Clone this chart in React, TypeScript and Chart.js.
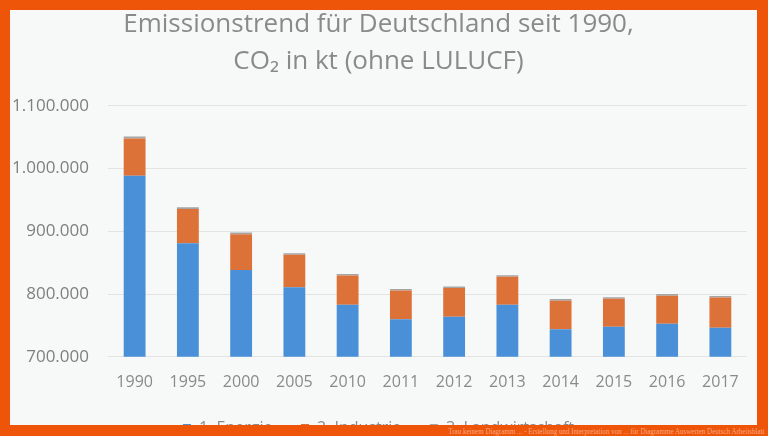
import React, { useEffect, useRef } from "react";
import { Chart, registerables } from "chart.js";

Chart.register(...registerables);

const years = ["1990", "1995", "2000", "2005", "2010", "2011", "2012", "2013", "2014", "2015", "2016", "2017"];
const energie = [988500, 881000, 838500, 811000, 783000, 760000, 764000, 783000, 744000, 748000, 752500, 746500];
const industrie = [59500, 54500, 57000, 51500, 46500, 45500, 45500, 44500, 45500, 44500, 45000, 48000];
const landwirtschaft = [3000, 2800, 2700, 2700, 2600, 2600, 2600, 2600, 2600, 2600, 2600, 2600];
const titleLines = ["Emissionstrend für Deutschland seit 1990,", "CO₂ in kt (ohne LULUCF)"];
const seriesNames = ["1. Energie", "2. Industrie", "3. Landwirtschaft"];
const watermark = "Trau keinem Diagramm ... - Erstellung und Interpretation von ... für Diagramme Auswerten Deutsch Arbeitsblatt";

function fmt(v: number): string {
  const s = Math.round(v).toString();
  return s.replace(/\B(?=(\d{3})+(?!\d))/g, ".");
}

export default function App() {
  const ref = useRef<HTMLCanvasElement | null>(null);
  useEffect(() => {
    document.body.style.margin = "0";
    const canvas = ref.current;
    if (!canvas) return;
    const defaultGen = Chart.defaults.plugins.legend.labels.generateLabels;
    const chart = new Chart(canvas, {
      type: "bar",
      data: {
        labels: years,
        datasets: [
          { label: seriesNames[0], data: energie, backgroundColor: "#4a90d9" },
          { label: seriesNames[1], data: industrie, backgroundColor: "#dd7239" },
          { label: seriesNames[2], data: landwirtschaft, backgroundColor: "#a5a5a5" },
        ],
      },
      options: {
        animation: false,
        responsive: true,
        maintainAspectRatio: false,
        layout: { padding: { left: 0, right: 10, top: 0, bottom: 0 } },
        datasets: { bar: { barPercentage: 0.41, categoryPercentage: 1 } },
        plugins: {
          title: {
            display: true,
            text: titleLines,
            color: "#8a8a8a",
            font: { family: "'Open Sans'", size: 26, weight: "normal", lineHeight: 1.42 },
            padding: { top: 0, bottom: 26 },
          },
          legend: {
            position: "bottom",
            labels: {
              color: "#8a8a8a",
              font: { family: "'Open Sans'", size: 16 },
              boxWidth: 8,
              boxHeight: 8,
              padding: 12,
              generateLabels: (c: any) => {
                const items = defaultGen(c);
                items.forEach((it: any, i: number) => {
                  if (i < items.length - 1) it.text = it.text + "    ";
                });
                return items;
              },
            },
          },
          tooltip: { enabled: false },
        },
        scales: {
          x: {
            stacked: true,
            grid: { display: false, drawTicks: false },
            border: { display: false },
            ticks: { color: "#8a8a8a", font: { family: "'Open Sans'", size: 16 }, padding: 16 },
          },
          y: {
            stacked: true,
            min: 700000,
            max: 1100000,
            afterFit: (s: any) => { s.width = 98; },
            grid: { color: "#e3e3e3", lineWidth: 1, drawTicks: false },
            border: { display: false },
            ticks: {
              stepSize: 100000,
              color: "#7f7f7f",
              font: { family: "'Open Sans'", size: 17 },
              padding: 19,
              callback: (v: any) => fmt(Number(v)),
            },
          },
        },
      },
    });
    return () => chart.destroy();
  }, []);

  return (
    <div style={{ position: "relative", width: 768, height: 436, background: "#ef5508", overflow: "hidden" }}>
      <div style={{ position: "absolute", left: 10, top: 10, width: 747, height: 415, background: "#f7f8f8", overflow: "hidden" }}>
        <div style={{ position: "absolute", left: 0, top: -4, width: 747, height: 440 }}>
          <canvas ref={ref} />
        </div>
      </div>
      <div
        style={{
          position: "absolute",
          right: 3,
          top: 426,
          fontFamily: "'Liberation Serif', serif",
          fontSize: 9,
          lineHeight: "10px",
          color: "#f7a882",
          whiteSpace: "nowrap",
          transform: "scaleX(0.78)",
          transformOrigin: "right top",
        }}
      >
        {watermark}
      </div>
    </div>
  );
}
